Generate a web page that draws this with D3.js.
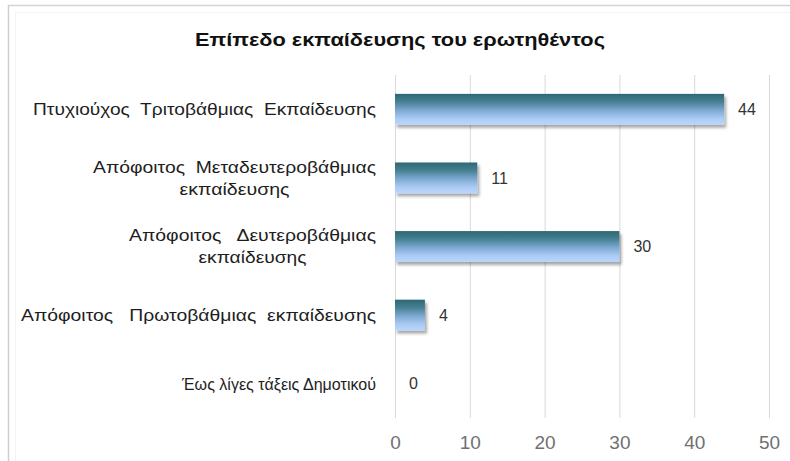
<!DOCTYPE html>
<html>
<head>
<meta charset="utf-8">
<script src="https://cdn.jsdelivr.net/npm/d3@7"></script>
<style>
  html, body { margin: 0; padding: 0; background: #fff; }
  svg { display: block; font-family: "Liberation Sans", Arial, sans-serif; }
</style>
</head>
<body>
<svg id="chart" width="790" height="461"></svg>
<script>
// Education level of respondents (counts)
const chartTitle = "Επίπεδο εκπαίδευσης του ερωτηθέντος";
const categories = [
  ["Πτυχιούχος  Τριτοβάθμιας  Εκπαίδευσης"],
  ["Απόφοιτος  Μεταδευτεροβάθμιας", "εκπαίδευσης"],
  ["Απόφοιτος   Δευτεροβάθμιας", "εκπαίδευσης"],
  ["Απόφοιτος   Πρωτοβάθμιας  εκπαίδευσης"],
  ["Έως λίγες τάξεις Δημοτικού"]
];
const values = [44, 11, 30, 4, 0];
const xTicks = [0, 10, 20, 30, 40, 50];

// rendered width of each label line (px), so wrapped labels keep their set widths
const labelLineWidths = [[343], [283, 110], [247, 108], [355], [194]];

const svg = d3.select("#chart");
const W = 790, H = 461;
const plot = { left: 395, right: 769, top: 75, bottom: 418 };

// outer frame (top and left edges)
svg.append("line").attr("x1", 8).attr("x2", W).attr("y1", 5.5).attr("y2", 5.5)
  .attr("stroke", "#d4d4d4").attr("stroke-width", 1.5);
svg.append("line").attr("x1", 8.5).attr("x2", 8.5).attr("y1", 5).attr("y2", H)
  .attr("stroke", "#cfcfcf").attr("stroke-width", 1.5);
svg.append("line").attr("x1", 15).attr("x2", W).attr("y1", 12.5).attr("y2", 12.5)
  .attr("stroke", "#f3f3f3");
svg.append("line").attr("x1", 15.5).attr("x2", 15.5).attr("y1", 12).attr("y2", H)
  .attr("stroke", "#f3f3f3");

// title
svg.append("text")
  .attr("x", 400).attr("y", 46)
  .attr("text-anchor", "middle")
  .attr("font-size", 18.5).attr("font-weight", "bold")
  .attr("fill", "#111")
  .attr("textLength", 410).attr("lengthAdjust", "spacingAndGlyphs")
  .text(chartTitle);

const x = d3.scaleLinear().domain([0, 50]).range([plot.left, plot.right]);
const y = d3.scaleBand()
  .domain(d3.range(values.length))
  .range([plot.top, plot.bottom])
  .paddingInner(0.55).paddingOuter(0.275);

// gradient + shadow definitions
const defs = svg.append("defs");
const grad = defs.append("linearGradient").attr("id", "barGrad")
  .attr("x1", 0).attr("y1", 0).attr("x2", 0).attr("y2", 1);
grad.append("stop").attr("offset", "0%").attr("stop-color", "#2d6872");
grad.append("stop").attr("offset", "25%").attr("stop-color", "#457f92");
grad.append("stop").attr("offset", "55%").attr("stop-color", "#80abd4");
grad.append("stop").attr("offset", "80%").attr("stop-color", "#abcaf4");
grad.append("stop").attr("offset", "100%").attr("stop-color", "#bad6fc");

const shadow = defs.append("filter").attr("id", "barShadow")
  .attr("x", "-10%").attr("y", "-20%").attr("width", "130%").attr("height", "160%");
shadow.append("feDropShadow").attr("dx", 2).attr("dy", 3)
  .attr("stdDeviation", 1.8).attr("flood-color", "#000").attr("flood-opacity", 0.35);

// vertical gridlines and value axis labels
const xAxis = d3.axisBottom(x).tickValues(xTicks).tickSize(-(plot.bottom - plot.top)).tickPadding(18);
const gx = svg.append("g")
  .attr("transform", `translate(0,${plot.bottom})`)
  .call(xAxis);
gx.select(".domain").remove();
gx.selectAll(".tick line").attr("stroke", "#d9d9d9").attr("stroke-width", 1);
gx.selectAll(".tick text")
  .attr("font-size", 19).attr("fill", "#707070")
  .attr("font-family", "'Liberation Sans', Arial, sans-serif");

// bars
svg.append("g").selectAll("rect")
  .data(values)
  .join("rect")
  .attr("x", x(0))
  .attr("y", (d, i) => y(i))
  .attr("width", d => x(d) - x(0))
  .attr("height", y.bandwidth())
  .attr("fill", "url(#barGrad)")
  .attr("filter", d => d > 0 ? "url(#barShadow)" : null);

// value labels
svg.append("g").selectAll("text")
  .data(values)
  .join("text")
  .attr("x", d => x(d) + 14)
  .attr("y", (d, i) => y(i) + y.bandwidth() / 2)
  .attr("dy", "0.35em")
  .attr("font-size", 16)
  .attr("fill", "#333")
  .text(d => d);

// category labels: right-aligned block, wrapped lines centred on each other
const labelRight = 376;
const lineGap = 22;
const gl = svg.append("g");
categories.forEach((lines, i) => {
  const cy = y(i) + y.bandwidth() / 2;
  const widths = labelLineWidths[i];
  const wMax = d3.max(widths);
  lines.forEach((ln, k) => {
    gl.append("text")
      .attr("xml:space", "preserve")
      .style("white-space", "pre")
      .attr("font-size", 17)
      .attr("fill", "#1e1e1e")
      .attr("text-anchor", "middle")
      .attr("x", labelRight - wMax / 2)
      .attr("y", cy + (k - (lines.length - 1) / 2) * lineGap)
      .attr("dy", "0.35em")
      .attr("textLength", widths[k])
      .attr("lengthAdjust", "spacingAndGlyphs")
      .text(ln);
  });
});
</script>
</body>
</html>
